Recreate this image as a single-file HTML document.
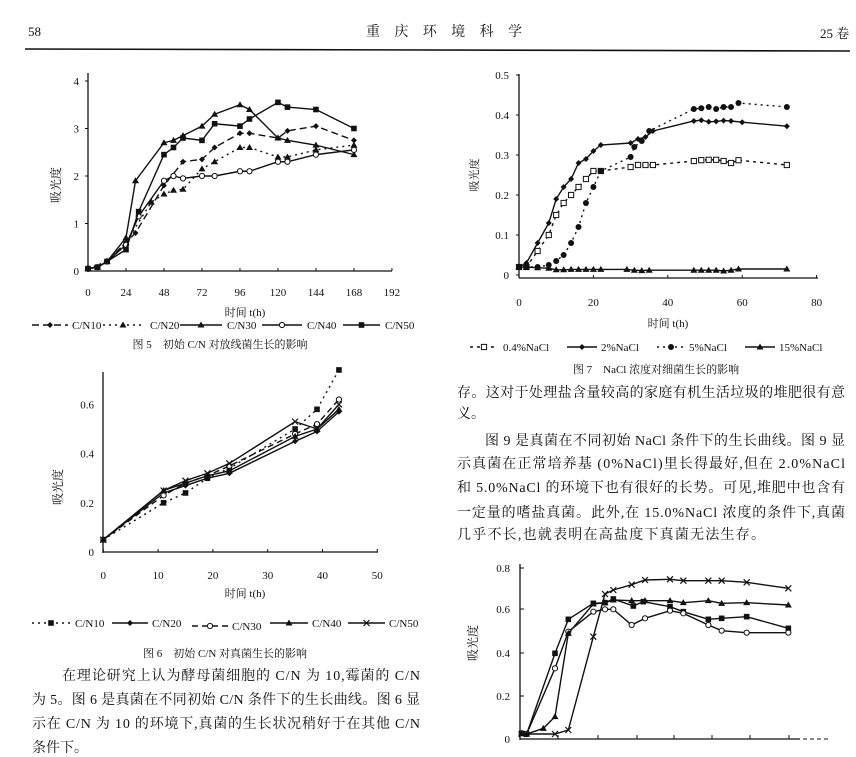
<!DOCTYPE html>
<html><head><meta charset="utf-8"><style>
html,body{margin:0;padding:0;background:#fff;}
svg{display:block;}
text{font-family:"Liberation Serif","Noto Serif CJK SC",serif;fill:#111;}
.cn{font-family:"Liberation Serif","Noto Serif CJK SC",serif;}
</style></head><body>
<svg id="s" width="856" height="757" viewBox="0 0 856 757" xmlns="http://www.w3.org/2000/svg">
<!-- header -->
<text x="28" y="36" font-size="13">58</text>
<text x="366" y="36" font-size="14" textLength="156">重庆环境科学</text>
<text x="820" y="38" font-size="13">25 卷</text>
<line x1="25" y1="49" x2="850" y2="51" stroke="#111" stroke-width="1.6"/>

<!-- Fig5 text -->
<text x="60" y="185" font-size="12" transform="rotate(-90 60 185)" text-anchor="middle">吸光度</text>
<text x="245" y="316" font-size="11" text-anchor="middle">时间 t(h)</text>
<text x="220" y="348" font-size="11" text-anchor="middle">图 5　初始 C/N 对放线菌生长的影响</text>

<!-- Fig7 text -->
<text x="478" y="175" font-size="11" transform="rotate(-90 478 175)" text-anchor="middle">吸光度</text>
<text x="668" y="327" font-size="11" text-anchor="middle">时间 t(h)</text>
<text x="656" y="373" font-size="11" text-anchor="middle">图 7　NaCl 浓度对细菌生长的影响</text>

<!-- Fig6 text -->
<text x="62" y="487" font-size="12" transform="rotate(-90 62 487)" text-anchor="middle">吸光度</text>
<text x="245" y="597" font-size="11" text-anchor="middle">时间 t(h)</text>
<text x="225" y="657" font-size="11" text-anchor="middle">图 6　初始 C/N 对真菌生长的影响</text>

<!-- Fig9 text -->
<text x="477" y="643" font-size="12" transform="rotate(-90 477 643)" text-anchor="middle">吸光度</text>

<!-- left paragraph -->
<g font-size="14">
<text x="62" y="680" textLength="358">在理论研究上认为酵母菌细胞的 C/N 为 10,霉菌的 C/N</text>
<text x="32" y="704" textLength="388">为 5。图 6 是真菌在不同初始 C/N 条件下的生长曲线。图 6 显</text>
<text x="32" y="728" textLength="388">示在 C/N 为 10 的环境下,真菌的生长状况稍好于在其他 C/N</text>
<text x="32" y="752">条件下。</text>
</g>
<!-- right paragraph -->
<g font-size="14">
<text x="457" y="397" textLength="388">存。这对于处理盐含量较高的家庭有机生活垃圾的堆肥很有意</text>
<text x="457" y="418">义。</text>
<text x="485" y="445" textLength="360">图 9 是真菌在不同初始 NaCl 条件下的生长曲线。图 9 显</text>
<text x="457" y="468" textLength="388">示真菌在正常培养基 (0%NaCl)里长得最好,但在 2.0%NaCl</text>
<text x="457" y="492" textLength="388">和 5.0%NaCl 的环境下也有很好的长势。可见,堆肥中也含有</text>
<text x="457" y="517" textLength="388">一定量的嗜盐真菌。此外,在 15.0%NaCl 浓度的条件下,真菌</text>
<text x="457" y="539" textLength="308">几乎不长,也就表明在高盐度下真菌无法生存。</text>
</g>
<g id="g"></g>
</svg>
<script>
var NS="http://www.w3.org/2000/svg",G=document.getElementById("g");
function el(t,a,txt){var e=document.createElementNS(NS,t);for(var k in a)e.setAttribute(k,a[k]);if(txt!=null)e.textContent=txt;G.appendChild(e);return e;}
function line(x1,y1,x2,y2,w,d){el("line",{x1:x1,y1:y1,x2:x2,y2:y2,stroke:"#111","stroke-width":w||1.3,"stroke-dasharray":d||"none"});}
function mark(x,y,m){
 if(m=="d")el("path",{d:"M"+x+" "+(y-3)+"L"+(x+3)+" "+y+"L"+x+" "+(y+3)+"L"+(x-3)+" "+y+"Z",fill:"#111"});
 else if(m=="t")el("path",{d:"M"+x+" "+(y-3.5)+"L"+(x+3.5)+" "+(y+2.5)+"L"+(x-3.5)+" "+(y+2.5)+"Z",fill:"#111"});
 else if(m=="o")el("circle",{cx:x,cy:y,r:2.6,fill:"#fff",stroke:"#111","stroke-width":1});
 else if(m=="O")el("circle",{cx:x,cy:y,r:3,fill:"#111"});
 else if(m=="s")el("rect",{x:x-2.8,y:y-2.8,width:5.6,height:5.6,fill:"#111"});
 else if(m=="q")el("rect",{x:x-2.6,y:y-2.6,width:5.2,height:5.2,fill:"#fff",stroke:"#111","stroke-width":1});
 else if(m=="x"){line(x-3,y-3,x+3,y+3,1.2);line(x-3,y+3,x+3,y-3,1.2);}
}
function series(pts,fx,fy,m,d){var s=pts.map(function(p){return fx(p[0])+","+fy(p[1]);}).join(" ");
 el("polyline",{points:s,fill:"none",stroke:"#111","stroke-width":1.4,"stroke-dasharray":d||"none"});
 pts.forEach(function(p){mark(fx(p[0]),fy(p[1]),m);});}
function leg(x1,x2,tx,y,m,d,label){line(x1,y,x2,y,1.4,d);mark((x1+x2)/2,y,m);el("text",{x:tx,y:y+4,"font-size":11},label);}

/* FIG 5 */
var f5x=function(t){return 88+t*1.583},f5y=function(v){return 271-v*47.5};
line(88,73,88,272,1.3);line(88,271,392,271,1.3);
[0,1,2,3,4].forEach(function(v){el("text",{x:79,y:f5y(v)+4,"font-size":11,"text-anchor":"end"},v);line(85,f5y(v),88,f5y(v),1);});
[0,24,48,72,96,120,144,168,192].forEach(function(v){el("text",{x:f5x(v),y:296,"font-size":11,"text-anchor":"middle"},v);line(f5x(v),271,f5x(v),268,1);});
series([[0,.05],[6,.08],[12,.2],[24,.6],[30,.8],[48,1.8],[60,2.3],[72,2.35],[80,2.6],[96,2.9],[102,2.9],[120,2.8],[126,2.95],[144,3.05],[168,2.75]],f5x,f5y,"d","7,4");
series([[0,.05],[12,.2],[24,.6],[40,1.45],[48,1.62],[54,1.7],[60,1.72],[72,2.15],[80,2.3],[96,2.6],[102,2.6],[120,2.4],[126,2.4],[144,2.55],[168,2.65]],f5x,f5y,"t","2,4");
series([[0,.05],[6,.08],[12,.2],[24,.7],[30,1.9],[48,2.7],[54,2.75],[60,2.85],[72,3.05],[80,3.3],[96,3.5],[102,3.4],[120,2.8],[126,2.75],[144,2.65],[168,2.45]],f5x,f5y,"t");
series([[0,.05],[6,.08],[12,.2],[24,.55],[32,1.15],[48,1.9],[54,2.0],[60,1.95],[72,2.0],[80,2.0],[96,2.1],[102,2.1],[120,2.3],[126,2.3],[144,2.45],[168,2.55]],f5x,f5y,"o");
series([[0,.05],[6,.08],[12,.2],[24,.45],[32,1.25],[48,2.45],[54,2.6],[60,2.8],[72,2.75],[80,3.1],[96,3.05],[102,3.2],[120,3.55],[126,3.45],[144,3.4],[168,3.0]],f5x,f5y,"s");
leg(32,68,72,325,"d","7,4","C/N10");leg(103,143,150,325,"t","2,4","C/N20");leg(180,222,227,325,"t",null,"C/N30");leg(262,302,307,325,"o",null,"C/N40");leg(343,380,385,325,"s",null,"C/N50");

/* FIG 7 */
var f7x=function(t){return 519+t*3.72},f7y=function(v){return 275-v*400};
line(519,74,519,278,1.3);line(519,278,818,278,1.3);
[0,.1,.2,.3,.4,.5].forEach(function(v){el("text",{x:509,y:f7y(v)+4,"font-size":11,"text-anchor":"end"},v==0?"0":v.toFixed(1));line(516,f7y(v),519,f7y(v),1);});
[0,20,40,60,80].forEach(function(v){el("text",{x:f7x(v),y:306,"font-size":11,"text-anchor":"middle"},v);line(f7x(v),278,f7x(v),275,1);});
series([[0,.02],[2,.02],[5,.06],[8,.1],[10,.15],[12,.18],[14,.2],[16,.22],[18,.24],[20,.26],[22,.26],[30,.27],[32,.275],[34,.275],[36,.275],[47,.285],[49,.287],[51,.288],[53,.288],[55,.285],[57,.28],[59,.287],[72,.275]],f7x,f7y,"q","3,4");
series([[0,.02],[2,.03],[5,.08],[8,.13],[10,.19],[12,.22],[14,.24],[16,.28],[18,.29],[20,.31],[22,.325],[30,.33],[32,.34],[34,.345],[36,.36],[47,.385],[49,.387],[51,.383],[53,.384],[55,.386],[57,.385],[60,.382],[72,.372]],f7x,f7y,"d");
series([[0,.02],[2,.02],[5,.02],[8,.025],[10,.035],[12,.05],[14,.08],[16,.12],[18,.18],[20,.22],[22,.26],[30,.295],[31,.32],[33,.335],[35,.36],[47,.415],[49,.417],[51,.42],[53,.415],[55,.42],[57,.42],[59,.43],[72,.42]],f7x,f7y,"O","2,4");
series([[0,.02],[2,.02],[5,.018],[8,.017],[10,.013],[12,.013],[14,.014],[16,.014],[18,.014],[20,.014],[22,.014],[29,.014],[31,.012],[33,.011],[35,.012],[47,.012],[49,.012],[51,.012],[53,.012],[55,.01],[57,.012],[59,.015],[72,.015]],f7x,f7y,"t");
leg(470,498,503,347,"q","3,4","0.4%NaCl");leg(567,597,601,347,"d",null,"2%NaCl");leg(657,685,689,347,"O","2,4","5%NaCl");leg(745,775,779,347,"t",null,"15%NaCl");

/* FIG 6 */
var f6x=function(t){return 103.3+t*5.48},f6y=function(v){return 552-v*246};
line(103,372,103,553,1.3);line(103,552,378,552,1.3);
[0,.2,.4,.6].forEach(function(v){el("text",{x:94,y:f6y(v)+4,"font-size":11,"text-anchor":"end"},v==0?"0":v.toFixed(1));});
[0,10,20,30,40,50].forEach(function(v){el("text",{x:f6x(v),y:579,"font-size":11,"text-anchor":"middle"},v);line(f6x(v),552,f6x(v),549,1);});
series([[0,.05],[11,.2],[15,.24],[19,.3],[23,.34],[35,.5],[39,.58],[43,.74]],f6x,f6y,"s","2,4");
series([[0,.05],[11,.24],[15,.27],[19,.3],[23,.32],[35,.45],[39,.49],[43,.57]],f6x,f6y,"d");
series([[0,.05],[11,.23],[15,.28],[19,.31],[23,.35],[35,.48],[39,.52],[43,.62]],f6x,f6y,"o","6,4");
series([[0,.05],[11,.25],[15,.28],[19,.31],[23,.33],[35,.47],[39,.5],[43,.58]],f6x,f6y,"t");
series([[0,.05],[11,.25],[15,.29],[19,.32],[23,.36],[35,.53],[39,.5],[43,.6]],f6x,f6y,"x");
leg(32,70,75,623,"s","2,4","C/N10");leg(112,148,152,623,"d",null,"C/N20");leg(192,228,232,626,"o","6,4","C/N30");leg(270,308,312,623,"t",null,"C/N40");leg(348,385,389,623,"x",null,"C/N50");

/* FIG 9 (pixel coords from zoom) */
var f9x=function(z){return 430+z/3},f9y=function(z){return 380+z/3};
line(520,564,520,740,1.3);line(520,739,800,739,1.3);line(803,739,828,739,1,"4,3");
[[0.8,568],[0.6,609],[0.4,653],[0.2,696],[0,739]].forEach(function(p){el("text",{x:510,y:p[1]+4,"font-size":11,"text-anchor":"end"},p[0]==0?"0":p[0].toFixed(1));line(520,p[1],524,p[1],1);});
[558,598,637,674,712,750,789].forEach(function(x){line(x,739,x,735,1);});
series([[275,1060],[290,1062],[375,820],[415,718],[490,670],[525,668],[550,657],[610,678],[640,665],[720,680],[760,695],[835,718],[875,715],[950,710],[1075,745]],f9x,f9y,"s");
series([[275,1060],[290,1062],[375,865],[415,755],[490,695],[525,688],[550,688],[605,735],[645,715],[720,692],[760,700],[835,735],[875,752],[950,758],[1075,758]],f9x,f9y,"o");
series([[275,1060],[290,1062],[340,1045],[375,1010],[415,760],[490,672],[525,668],[550,660],[605,662],[645,662],[720,662],[760,668],[835,662],[875,670],[950,668],[1075,675]],f9x,f9y,"t");
series([[275,1062],[375,1062],[415,1050],[490,770],[525,642],[550,630],[605,614],[645,600],[720,598],[760,602],[835,602],[875,602],[950,607],[1075,625]],f9x,f9y,"x");
</script>
</body></html>
